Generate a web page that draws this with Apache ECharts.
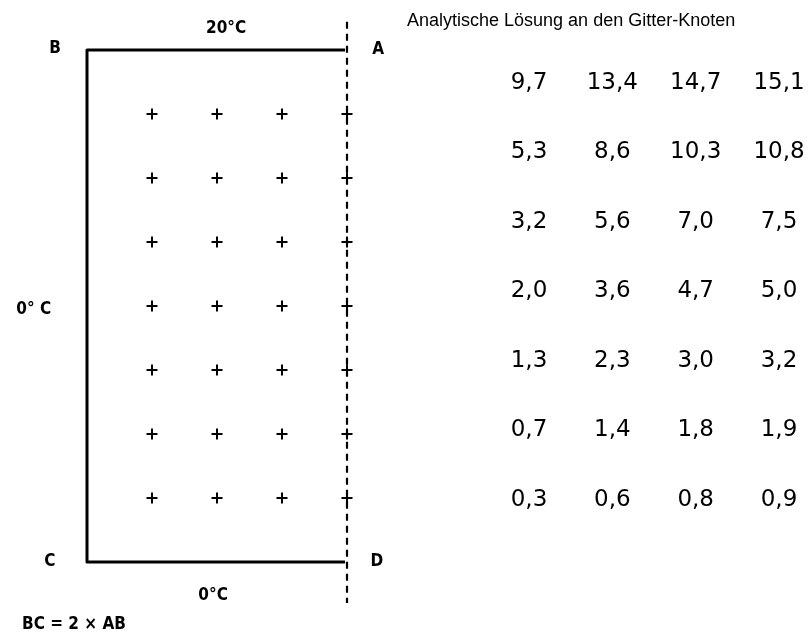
<!DOCTYPE html>
<html><head><meta charset="utf-8">
<script src="https://cdn.jsdelivr.net/npm/echarts@6/dist/echarts.min.js"></script>
<style>html,body{margin:0;padding:0;background:#fff}#c{width:809px;height:634px}</style>
</head><body><div id="c"></div>
<script>
// ---- data ----
const nodeColumns = [1, 2, 3, 4];            // node columns (grid spacings from side BC)
const nodeRows = [1, 2, 3, 4, 5, 6, 7];      // node rows (grid spacings from side AB)
const solutionRows = [
  [9.7, 13.4, 14.7, 15.1],
  [5.3, 8.6, 10.3, 10.8],
  [3.2, 5.6, 7.0, 7.5],
  [2.0, 3.6, 4.7, 5.0],
  [1.3, 2.3, 3.0, 3.2],
  [0.7, 1.4, 1.8, 1.9],
  [0.3, 0.6, 0.8, 0.9]
];
const plateWidth = 4;    // AB in grid spacings
const plateHeight = 8;   // BC in grid spacings
const titleText = 'Analytische Lösung an den Gitter-Knoten';
const cornerNames = ['A', 'B', 'C', 'D'];
const edgeTemps = ['20°C', '0° C', '0°C'];
const ratioText = 'BC = 2 × AB';

// ---- build ----
const plusPath = 'path://M4.1,0H5.9V4.1H10V5.9H5.9V10H4.1V5.9H0V4.1H4.1Z';
const nodes = [];
nodeRows.forEach(r => nodeColumns.forEach(c => nodes.push([c, r])));
const table = [];
solutionRows.forEach((row, ri) => row.forEach((v, ci) => table.push([ci + 1, ri + 1, v])));

const annFont = {fontFamily: '"DejaVu Sans Condensed","Liberation Sans Narrow","DejaVu Sans",sans-serif', fontWeight: 'bold', fontSize: 17, color: '#000'};
const annotations = [
  {name: edgeTemps[0], value: [2.14, -0.34]},
  {name: cornerNames[1], value: [-0.49, -0.03]},
  {name: cornerNames[0], value: [4.48, 0.0]},
  {name: cornerNames[2], value: [-0.57, 8.0]},
  {name: cornerNames[3], value: [4.46, 8.0]},
  {name: edgeTemps[2], value: [1.94, 8.53]},
  {name: edgeTemps[1], value: [-0.82, 4.05]},
  {name: ratioText, value: [-0.2, 8.97]}
];

const chart = echarts.init(document.getElementById('c'), null, {renderer: 'canvas'});
chart.setOption({
  animation: false,
  backgroundColor: '#fff',
  title: {
    text: titleText, left: 402, top: 7,
    textStyle: {fontFamily: '"Liberation Sans",Arial,sans-serif', fontWeight: 'normal', fontSize: 18, color: '#000'}
  },
  grid: [
    {left: 87, top: 50, width: 260, height: 512},
    {left: 529, top: 83, width: 250, height: 417}
  ],
  xAxis: [
    {gridIndex: 0, type: 'value', min: 0, max: plateWidth, show: false},
    {gridIndex: 1, type: 'value', min: 1, max: 4, show: false}
  ],
  yAxis: [
    {gridIndex: 0, type: 'value', min: 0, max: plateHeight, inverse: true, show: false},
    {gridIndex: 1, type: 'value', min: 1, max: 7, inverse: true, show: false}
  ],
  series: [
    {
      type: 'line', xAxisIndex: 0, yAxisIndex: 0, clip: false, symbol: 'none',
      data: [[plateWidth - 0.03, 0], [0, 0], [0, plateHeight], [plateWidth - 0.03, plateHeight]],
      lineStyle: {color: '#000', width: 3, join: 'round'}
    },
    {
      type: 'line', xAxisIndex: 0, yAxisIndex: 0, clip: false, symbol: 'none',
      data: [[plateWidth, -0.44], [plateWidth, plateHeight + 0.64]],
      lineStyle: {color: '#000', width: 2.2, type: [7, 5]}
    },
    {
      type: 'scatter', xAxisIndex: 0, yAxisIndex: 0, clip: false,
      symbol: plusPath, symbolSize: 11, data: nodes,
      itemStyle: {color: '#000', opacity: 1}
    },
    {
      type: 'scatter', xAxisIndex: 0, yAxisIndex: 0, clip: false,
      symbolSize: 0, data: annotations, itemStyle: {opacity: 1},
      label: Object.assign({show: true, position: 'inside', formatter: p => p.name}, annFont)
    },
    {
      type: 'scatter', xAxisIndex: 1, yAxisIndex: 1, clip: false,
      symbolSize: 0, data: table, itemStyle: {opacity: 1},
      label: {
        show: true, position: 'inside',
        formatter: p => p.value[2].toFixed(1).replace('.', ','),
        fontFamily: '"DejaVu Sans",Verdana,sans-serif', fontSize: 23, color: '#000'
      }
    }
  ]
});
</script></body></html>
